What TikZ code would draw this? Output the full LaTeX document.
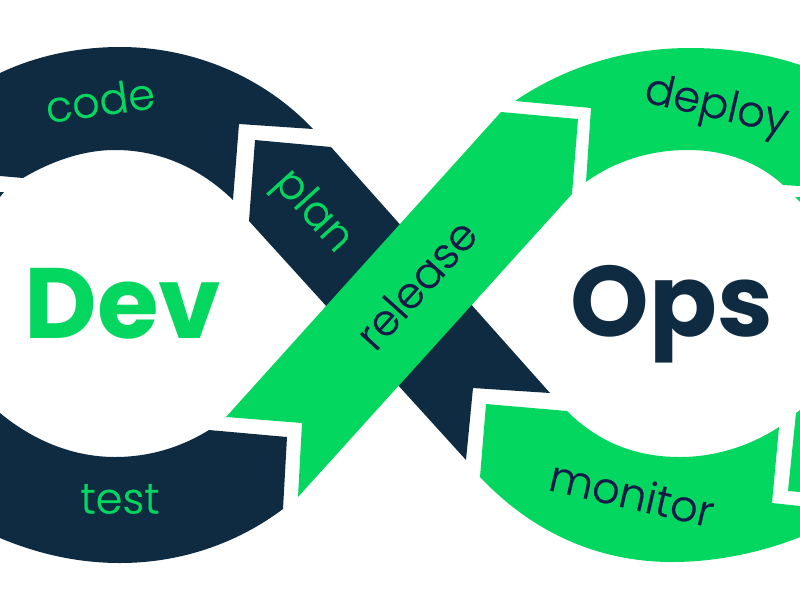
\documentclass[tikz,border=0pt]{standalone}
\usepackage{fontspec}
\usepackage{xcolor}
\usetikzlibrary{positioning,calc}
\setmainfont{Poppins}
\newfontfamily\lightfont[FakeBold=0.5]{Poppins Light}
\definecolor{navyband}{HTML}{0F2B41}
\definecolor{greenband}{HTML}{04D75F}
\definecolor{navytext}{HTML}{14194A}
\tikzset{
    navy/.style={fill=navyband},
    green/.style={fill=greenband},
    biglabel/.style={font=\fontsize{100}{100}\selectfont\bfseries, inner sep=0pt},
    smalllabel/.style={font=\lightfont\fontsize{43}{43}\selectfont, inner sep=0pt},
}

\begin{document}
\begin{tikzpicture}[x=1pt, y=-1pt]
    \useasboundingbox (0,0) rectangle (800,600);

    % left loop
    \fill[navy] (0,73) .. controls (38,55) and (80,47) .. (120,47) .. controls (195,47) and (265,78) .. (313,129)
        -- (239,124) -- (233,200) .. controls (200,168) and (160,150) .. (115,150) .. controls (82,150) and (50,162) .. (23,178) -- (0,176) -- cycle;
    \fill[navy] (0,192) -- (4,192) -- (0,197) -- cycle;
    \fill[navy] (0,413) .. controls (35,442) and (75,457) .. (115,457) .. controls (148,457) and (180,448) .. (209,430)
        -- (287,437) -- (283,509) .. controls (235,545) and (178,563) .. (120,563) .. controls (78,563) and (38,554) .. (0,538) -- cycle;

    % right loop
    \fill[green] (515,101) .. controls (565,67) and (625,48) .. (690,48) .. controls (730,48) and (768,54) .. (800,65)
        -- (800,186) -- (783,185) .. controls (758,162) and (725,150) .. (688,150) .. controls (650,150) and (615,161) .. (586,182)
        -- (591,108) -- cycle;
    \fill[green] (795,197) -- (800,197) -- (800,202) -- cycle;
    \fill[green] (486,404) -- (567,411) .. controls (598,442) and (635,457) .. (680,457) .. controls (715,457) and (750,446) .. (779,427)
        -- (772,503) -- (800,506) -- (800,537) .. controls (760,553) and (715,562) .. (672,562) .. controls (595,562) and (530,530) .. (480,477) -- cycle;
    \fill[green] (796,413) -- (800,410) -- (800,492) -- (788,491) -- cycle;

    % crossing
    \fill[navy] (255,140) -- (331,147) -- (550,393) -- (473,388) -- (466,460) -- (249,221) -- cycle;
    \fill[green] (501,112) -- (578,119) -- (572,194) -- (298,497) -- (302,423) -- (226,417) -- cycle;

    \node (dev) [biglabel, text=greenband] at (123,304) {Dev};
    \node (ops) [biglabel, text=navyband] at (672,314) {Ops};
    \node (code) [smalllabel, text=greenband, rotate=8] at (100,100) {code};
    \node (plan) [smalllabel, text=greenband, rotate=-48] at (312,212) {plan};
    \node (release) [smalllabel, text=navytext, rotate=48] at (416,284) {release};
    \node (deploy) [smalllabel, text=navytext, rotate=-13] at (716,108) {deploy};
    \node (test) [smalllabel, text=greenband] at (120,499) {test};
    \node (monitor) [smalllabel, text=navytext, rotate=-13] at (632,493) {monitor};
\end{tikzpicture}
\end{document}
